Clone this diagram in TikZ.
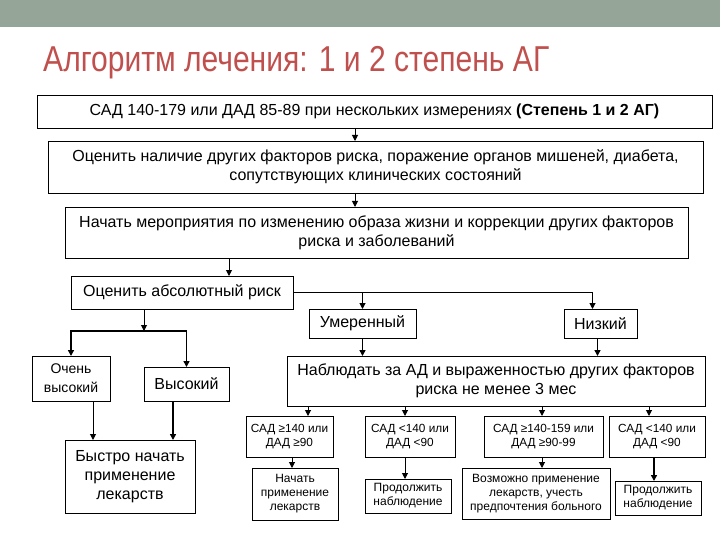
\documentclass[tikz,border=0pt]{standalone}
\usepackage{fontspec}
\setmainfont{Liberation Sans}
\newfontfamily\titlefont[FakeStretch=0.835]{Liberation Sans}
\usetikzlibrary{arrows.meta,positioning}
\definecolor{bandgreen}{HTML}{95A597}
\definecolor{titlered}{HTML}{C0504D}
\tikzset{
box/.style={draw,line width=.8pt,inner sep=0pt,outer sep=0pt,align=center,font=\fontsize{16}{19}\selectfont},
smallbox/.style={box,font=\fontsize{11.8}{14}\selectfont},
tinybox/.style={box,font=\fontsize{12}{14}\selectfont},
flow/.style={-{Triangle[length=6pt,width=6pt]},line width=1pt},
heavyflow/.style={flow,line width=1.6pt}
}
\begin{document}
\begin{tikzpicture}[x=1pt,y=-1pt]
\useasboundingbox (0,0) rectangle (720,540);
\fill[bandgreen] (0,0) rectangle (720,27);
\node[anchor=base west,inner sep=0pt,text=titlered,font=\titlefont\fontsize{36}{40}\selectfont](title) at (43,72){Алгоритм лечения: 1 и 2 степень АГ};
\node[box,minimum width=675pt,minimum height=33pt](stage) at (374.5,111.5){САД 140-179 или ДАД 85-89 при нескольких измерениях \textbf{(Степень 1 и 2 АГ)}};
\node[box,minimum width=655pt,minimum height=52pt](assess) at (375.5,167){Оценить наличие других факторов риска, поражение органов мишеней, диабета,\\сопутствующих клинических состояний};
\node[box,minimum width=623pt,minimum height=51pt](life) at (376.5,232.5){Начать мероприятия по изменению образа жизни и коррекции других факторов\\риска и заболеваний};
\node[box,minimum width=222pt,minimum height=33pt](risk) at (182,292.5){Оценить абсолютный риск};
\node[box,minimum width=107pt,minimum height=29pt](mod) at (362.5,323.5){Умеренный};
\node[box,minimum width=73pt,minimum height=29pt](low) at (600.5,323.5){Низкий};
\node[box,minimum width=418pt,minimum height=50pt](obs) at (496,381){Наблюдать за АД и выраженностью других факторов\\риска не менее 3 мес};
\node[box,minimum width=78pt,minimum height=45pt,font=\fontsize{14}{19}\selectfont](vhigh) at (71,378.5){Очень\\высокий};
\node[box,minimum width=85pt,minimum height=34pt](high) at (186.5,384){Высокий};
\node[box,minimum width=130pt,minimum height=73pt](fast) at (130,476.5){Быстро начать\\применение\\лекарств};
\node[smallbox,minimum width=87pt,minimum height=41pt](cond1) at (289.5,436.5){САД ≥140 или\\ДАД ≥90};
\node[smallbox,minimum width=90pt,minimum height=41pt](cond2) at (410,436.5){САД <140 или\\ДАД <90};
\node[smallbox,minimum width=119pt,minimum height=41pt](cond3) at (543.5,436.5){САД ≥140-159 или\\ДАД ≥90-99};
\node[smallbox,minimum width=96pt,minimum height=41pt](cond4) at (657,436.5){САД <140 или\\ДАД <90};
\node[tinybox,minimum width=86pt,minimum height=52pt](act1) at (295,494){Начать\\применение\\лекарств};
\node[tinybox,minimum width=86pt,minimum height=34pt](act2) at (408,496){Продолжить\\наблюдение};
\node[tinybox,minimum width=148pt,minimum height=51pt](act3) at (536,493.5){Возможно применение\\лекарств, учесть\\предпочтения больного};
\node[tinybox,minimum width=86pt,minimum height=34pt](act4) at (658,498){Продолжить\\наблюдение};
\coordinate(split) at (144,331);
\draw[flow]([xshift=-19.5pt]stage.south)--([xshift=-19.5pt]stage.south|-assess.north);
\draw[flow]([xshift=-20.5pt]assess.south)--([xshift=-20.5pt]assess.south|-life.north);
\draw[flow]([xshift=47pt]risk.north|-life.south)--([xshift=47pt]risk.north);
\draw[flow](risk.east)-|([xshift=-8pt]low.north);\draw[flow](mod.north|-risk.east)--(mod.north);
\draw[heavyflow](mod.south)--(mod.south|-obs.north);\draw[heavyflow]([xshift=-3pt]low.south)--([xshift=-3pt]low.south|-obs.north);
\draw[flow]([xshift=-38pt]risk.south)--(split);
\draw[heavyflow](split)-|(vhigh.north);\draw[heavyflow](split)-|(high.north);
\draw[flow]([xshift=22pt]vhigh.south)--([xshift=22pt]vhigh.south|-fast.north);
\draw[heavyflow]([xshift=-13.5pt]high.south)--([xshift=-13.5pt]high.south|-fast.north);
\draw[flow]([xshift=18.5pt]cond1.north|-obs.south)--([xshift=18.5pt]cond1.north);
\draw[flow]([xshift=-5pt]cond2.north|-obs.south)--([xshift=-5pt]cond2.north);
\draw[flow]([xshift=-1.5pt]cond3.north|-obs.south)--([xshift=-1.5pt]cond3.north);
\draw[flow]([xshift=-8pt]cond4.north|-obs.south)--([xshift=-8pt]cond4.north);
\draw[flow]([xshift=2.5pt]cond1.south)--([xshift=2.5pt]cond1.south|-act1.north);
\draw[flow]([xshift=-5pt]cond2.south)--([xshift=-5pt]cond2.south|-act2.north);
\draw[flow]([xshift=-1.5pt]cond3.south)--([xshift=-1.5pt]cond3.south|-act3.north);
\draw[heavyflow]([xshift=-3pt]cond4.south)--([xshift=-3pt]cond4.south|-act4.north);
\end{tikzpicture}
\end{document}
